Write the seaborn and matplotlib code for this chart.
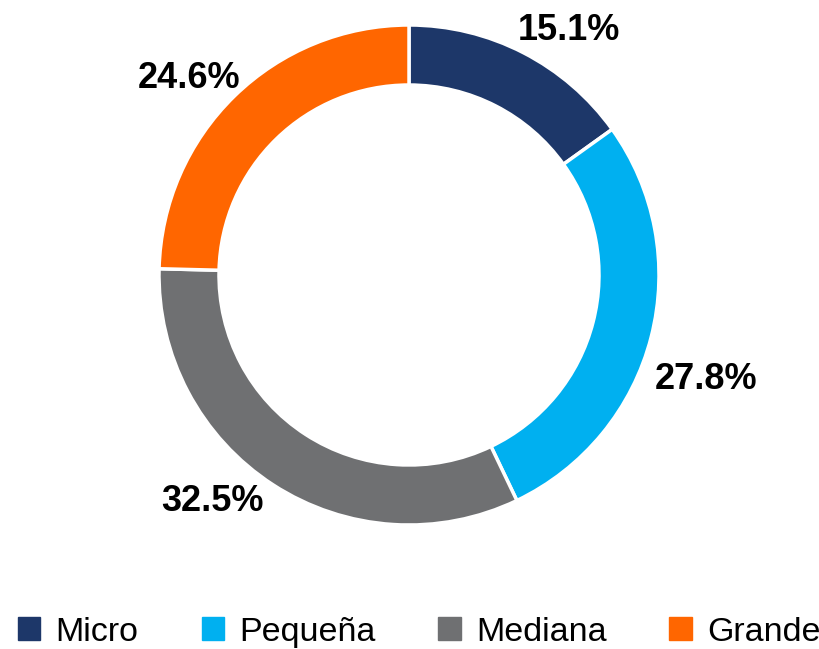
import matplotlib
matplotlib.use("Agg")
import matplotlib.pyplot as plt
import seaborn as sns
import numpy as np
from matplotlib.patches import Patch

categories = ["Micro", "Pequeña", "Mediana", "Grande"]
values = [15.1, 27.8, 32.5, 24.6]
labels = ["15.1%", "27.8%", "32.5%", "24.6%"]
colors = ["#1D3769", "#00B0F0", "#6F7072", "#FF6600"]

sns.set_theme(style="white")
plt.rcParams['font.family'] = ['Liberation Sans', 'DejaVu Sans']

fig = plt.figure(figsize=(8.19, 6.49), dpi=100)
cx, cy, R = 409, 275, 250
ax = fig.add_axes([(cx - R) / 819, (649 - cy - R) / 649, 2 * R / 819, 2 * R / 649])
wedges, _ = ax.pie(values, colors=sns.color_palette(colors), startangle=90, counterclock=False,
                   radius=1.0, wedgeprops=dict(width=0.24, edgecolor="white", linewidth=2.5))
ax.set_xlim(-1, 1)
ax.set_ylim(-1, 1)
ax.set_aspect("equal")
ax.axis("off")

factors = [1.17, 1.26, 1.20, 1.18]
shifts = [-6, -5, -8, 4]
for w, lab, f, s in zip(wedges, labels, factors, shifts):
    ang = np.deg2rad((w.theta1 + w.theta2) / 2 + s)
    ax.text(f * np.cos(ang), f * np.sin(ang), lab, ha="center", va="center",
            fontsize=26, fontweight="bold", color="black")

handles = [Patch(facecolor=c, edgecolor=c) for c in colors]
fig.legend(handles, categories, loc="lower center", bbox_to_anchor=(0.512, -0.045), ncol=4,
           frameon=False, fontsize=24.5, handlelength=0.65, handleheight=0.65,
           handletextpad=0.45, columnspacing=1.85, labelcolor="black")

fig.savefig("out.png", dpi=100, facecolor="white")
